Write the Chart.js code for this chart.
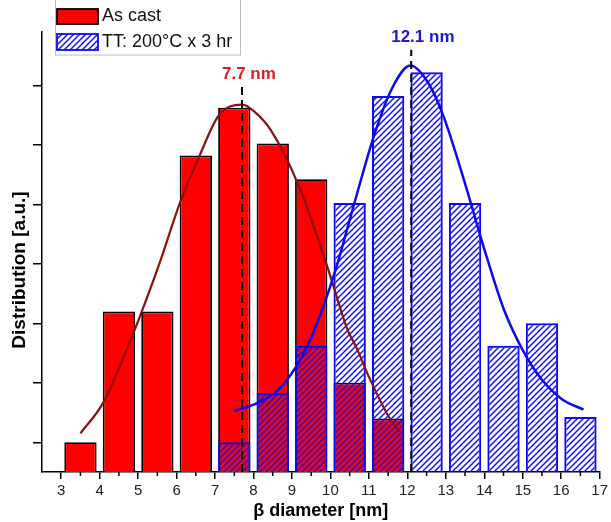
<!DOCTYPE html>
<html>
<head>
<meta charset="utf-8">
<script src="https://cdn.jsdelivr.net/npm/chart.js@4.4.1/dist/chart.umd.min.js"></script>
<style>
  html, body { margin: 0; padding: 0; background: #fff; }
  #wrap { width: 611px; height: 522px; position: relative; }
</style>
</head>
<body>
<div id="wrap"><canvas id="chart"></canvas></div>
<script>
// histogram bins (centres, nm)
const BIN_CENTERS = [3.5, 4.5, 5.5, 6.5, 7.5, 8.5, 9.5, 10.5, 11.5, 12.5, 13.5, 14.5, 15.5, 16.5];
const AS_CAST     = [1.0, 5.4, 5.4, 10.65, 12.25, 11.05, 9.85, 3.0, 1.8, null, null, null, null, null];
const TT_200C     = [null, null, null, null, 1.0, 2.65, 4.25, 9.05, 12.65, 13.45, 9.05, 4.25, 5.0, 1.85];

// fitted curves
const FIT_CAST_X = [3.5, 4.1, 4.9, 5.55, 6.1, 6.6, 7.1, 7.7, 8.0, 8.45, 9.2, 9.97, 10.44, 10.67, 11.0, 11.52, 11.8];
const FIT_CAST_Y = [1.3, 2.35, 4.75, 7.0, 9.1, 10.65, 12.0, 12.36, 12.15, 11.5, 9.55, 6.7, 4.8, 4.2, 3.2, 1.85, 1.35];
const FIT_TT_X = [7.5, 8.15, 8.67, 9.2, 9.58, 10.13, 10.57, 11.13, 11.6, 12.08, 12.56, 12.95, 13.5, 14.0, 14.5, 15.0, 15.5, 16.02, 16.58];
const FIT_TT_Y = [2.05, 2.35, 2.8, 3.75, 4.77, 6.78, 8.8, 11.3, 12.9, 13.67, 13.05, 11.93, 9.7, 7.5, 5.5, 4.1, 3.1, 2.45, 2.1];

// peak markers
const PEAK_X = [7.7, 12.1];
const PEAK_TOP = [12.95, 14.2];
const PEAK_LABELS = ["7.7 nm", "12.1 nm"];

const X_TICKS = [3, 4, 5, 6, 7, 8, 9, 10, 11, 12, 13, 14, 15, 16, 17];
const Y_TICKS = [1, 3, 5, 7, 9, 11, 13];

const FONT = "'Liberation Sans', Arial, sans-serif";
Chart.defaults.font.family = FONT;

function makeHatch(){
  const c = document.createElement("canvas");
  c.width = 6; c.height = 6;
  const g = c.getContext("2d");
  g.strokeStyle = "#1414e6"; g.lineWidth = 1.5;
  g.beginPath();
  g.moveTo(0, 6); g.lineTo(6, 0);
  g.moveTo(-1, 1); g.lineTo(1, -1);
  g.moveTo(5, 7); g.lineTo(7, 5);
  g.stroke();
  return g.createPattern(c, "repeat");
}
const HATCH = makeHatch();

const pts = (xs, ys) => xs.map((x, i) => ({ x, y: ys[i] })).filter(p => p.y !== null);

// minor ticks, peak markers, y title, legend box
const extras = {
  id: "extras",
  afterDatasetsDraw(chart){
    const { ctx, scales: { x, y } } = chart;
    ctx.save();
    ctx.strokeStyle = "#000"; ctx.lineWidth = 2; ctx.setLineDash([8, 5]);
    const cols = ["#de1a24", "#1a1ad0"];
    PEAK_X.forEach((v, i) => {
      const px = x.getPixelForValue(v), top = y.getPixelForValue(PEAK_TOP[i]);
      ctx.beginPath(); ctx.moveTo(px, y.bottom); ctx.lineTo(px, top); ctx.stroke();
      ctx.save();
      ctx.setLineDash([]);
      ctx.fillStyle = cols[i];
      ctx.font = "bold 17px " + FONT;
      ctx.textAlign = "left"; ctx.textBaseline = "middle";
      ctx.fillText(PEAK_LABELS[i], px - 20, top - 13);
      ctx.restore();
    });
    ctx.restore();
  },
  afterDraw(chart){
    const { ctx, scales: { x, y } } = chart;
    ctx.save();
    // minor ticks between the integers
    ctx.strokeStyle = "#000"; ctx.lineWidth = 1.5;
    for (let i = 0; i < X_TICKS.length - 1; i++){
      const px = x.getPixelForValue((X_TICKS[i] + X_TICKS[i+1]) / 2);
      ctx.beginPath(); ctx.moveTo(px, x.top); ctx.lineTo(px, x.top + 4); ctx.stroke();
    }
    // y title
    ctx.save();
    ctx.translate(20, 270); ctx.rotate(-Math.PI / 2);
    ctx.fillStyle = "#000"; ctx.font = "bold 19px " + FONT;
    ctx.textAlign = "center"; ctx.textBaseline = "middle";
    ctx.fillText("Distribution [a.u.]", 0, 0);
    ctx.restore();
    // legend
    const ds = chart.data.datasets;
    ctx.fillStyle = "#fff"; ctx.fillRect(55, -1, 186, 56);
    ctx.strokeStyle = "#bbb"; ctx.lineWidth = 1; ctx.strokeRect(55.5, -1, 185, 56);
    ctx.fillStyle = ds[0].backgroundColor; ctx.fillRect(57, 9, 41, 15);
    ctx.strokeStyle = ds[0].borderColor; ctx.lineWidth = 1.8; ctx.strokeRect(57, 9, 41, 15);
    ctx.fillStyle = ds[1].backgroundColor; ctx.fillRect(57, 34, 41, 16);
    ctx.strokeStyle = ds[1].borderColor; ctx.lineWidth = 1.8; ctx.strokeRect(57, 34, 41, 16);
    ctx.fillStyle = "#111"; ctx.font = "18px " + FONT;
    ctx.textAlign = "left"; ctx.textBaseline = "middle";
    ctx.fillText(ds[0].label, 102, 16);
    ctx.fillText(ds[1].label, 102, 42);
    ctx.restore();
  }
};

new Chart(document.getElementById("chart"), {
  type: "bar",
  data: {
    datasets: [
      { type: "bar", label: "As cast", data: pts(BIN_CENTERS, AS_CAST),
        backgroundColor: "#ff0000", borderColor: "#000", borderWidth: 1.8,
        grouped: false, barPercentage: 0.84, categoryPercentage: 1, order: 4 },
      { type: "bar", label: "TT: 200°C x 3 hr", data: pts(BIN_CENTERS, TT_200C),
        backgroundColor: HATCH, borderColor: "#0a0aee", borderWidth: 2,
        grouped: false, barPercentage: 0.84, categoryPercentage: 1, order: 3 },
      { type: "line", label: "As cast fit", data: pts(FIT_CAST_X, FIT_CAST_Y),
        borderColor: "#8b1010", borderWidth: 2.2, pointRadius: 0, fill: false,
        cubicInterpolationMode: "monotone", order: 2 },
      { type: "line", label: "TT fit", data: pts(FIT_TT_X, FIT_TT_Y),
        borderColor: "#0a0aee", borderWidth: 2.5, pointRadius: 0, fill: false,
        cubicInterpolationMode: "monotone", order: 1 }
    ]
  },
  options: {
    responsive: true, maintainAspectRatio: false, animation: false,
    layout: { padding: { top: 32, right: 10, left: 0, bottom: 0 } },
    plugins: { legend: { display: false }, tooltip: { enabled: false } },
    scales: {
      x: {
        type: "linear", min: 2.5, max: 17, offset: false,
        afterBuildTicks: s => { s.ticks = X_TICKS.map(v => ({ value: v })); },
        afterFit: s => { s.height = 50; },
        grid: { offset: false, drawOnChartArea: false, drawTicks: true, tickLength: 7, color: "#000", lineWidth: 1.5 },
        border: { color: "#000", width: 1.5 },
        ticks: { color: "#222", font: { size: 15 }, padding: 3, maxRotation: 0, autoSkip: false },
        title: { display: true, text: "β diameter [nm]", color: "#000",
                 font: { size: 18, weight: "bold" }, padding: { top: 0, bottom: 0 } }
      },
      y: {
        min: 0, max: 14.8,
        afterBuildTicks: s => { s.ticks = Y_TICKS.map(v => ({ value: v })); },
        afterFit: s => { s.width = 42; },
        grid: { drawOnChartArea: false, drawTicks: true, tickLength: 9, color: "#000", lineWidth: 1.5 },
        border: { color: "#000", width: 1.5 },
        ticks: { display: false }
      }
    }
  },
  plugins: [extras]
});
</script>
</body>
</html>
